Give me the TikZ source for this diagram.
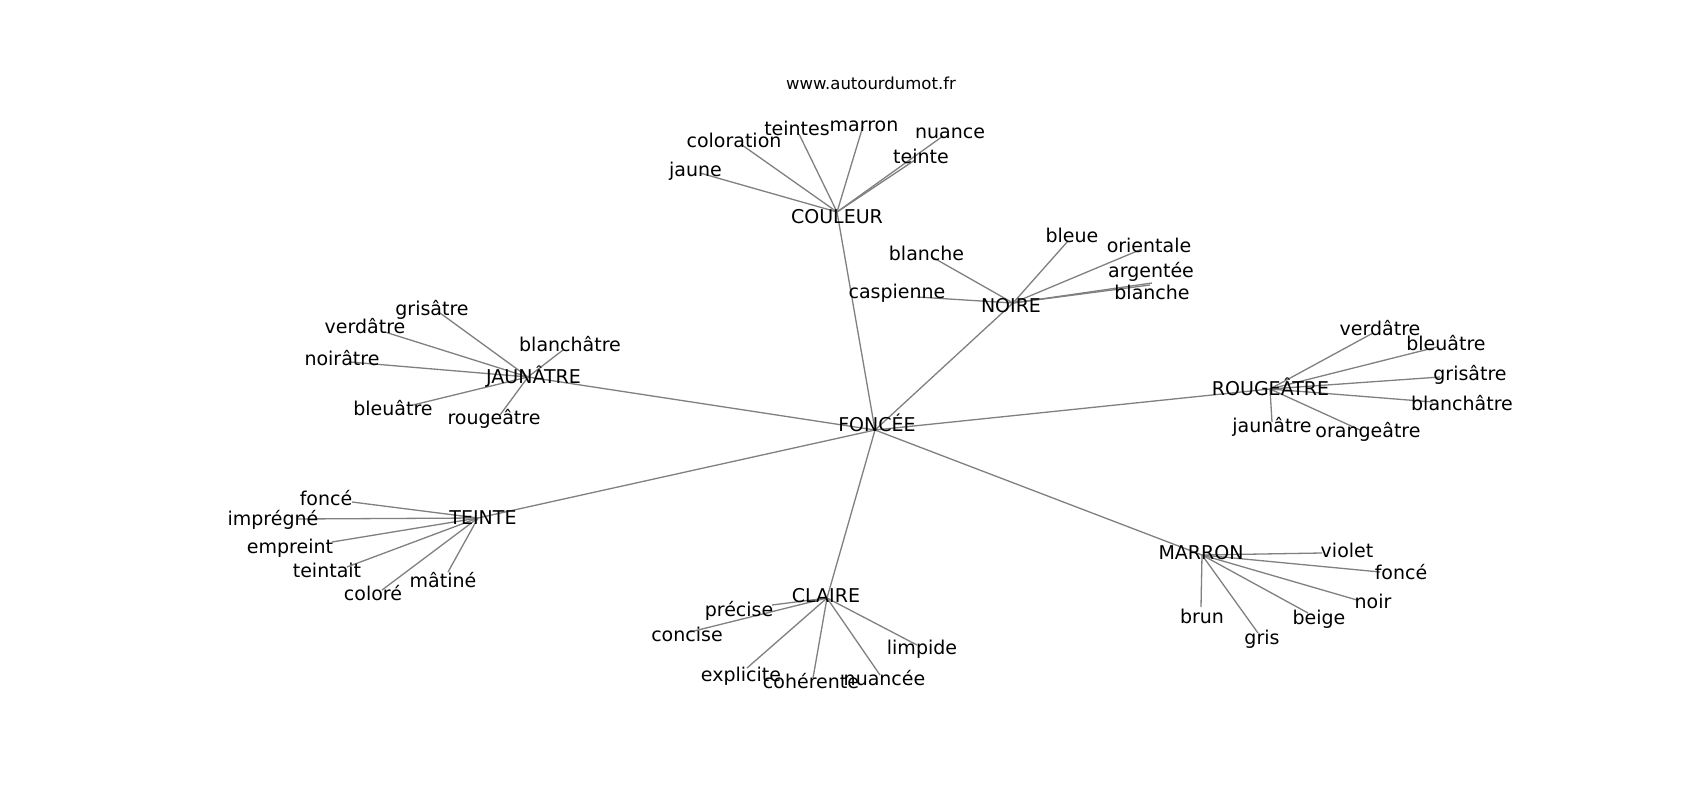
\documentclass[tikz,border=0pt]{standalone}
\usepackage{fontspec}
\setmainfont{DejaVu Sans}
\begin{document}
\begin{tikzpicture}[x=1pt,y=-1pt,
  lbl/.style={font=\fontsize{19}{23}\selectfont, inner sep=0pt, anchor=base, text=black},
  ttl/.style={font=\fontsize{16.5}{20}\selectfont, inner sep=0pt, anchor=base, text=black},
  edge/.style={draw=black!50, line width=1.3pt}]
\useasboundingbox[fill=white] (0,0) rectangle (1700,800);
% hub points
\coordinate (F) at (875,430);
\coordinate (COU) at (837,212);
\coordinate (NOI) at (1013,303);
\coordinate (JAU) at (528,377);
\coordinate (ROU) at (1270,389);
\coordinate (TEI) at (478,518);
\coordinate (CLA) at (827,598);
\coordinate (MAR) at (1202,555);
% leaf end points
\coordinate (c1) at (700,173); \coordinate (c2) at (742,145); \coordinate (c3) at (799,134);
\coordinate (c4) at (863,126); \coordinate (c5) at (943,136); \coordinate (c6) at (915,160);
\coordinate (n1) at (917,297); \coordinate (n2) at (932,257); \coordinate (n3) at (1068,241);
\coordinate (n4) at (1142,249); \coordinate (n5) at (1152,283); \coordinate (n6) at (1150,285);
\coordinate (j1) at (440,313); \coordinate (j2) at (385,332); \coordinate (j3) at (350,362);
\coordinate (j4) at (563,350); \coordinate (j5) at (413,405); \coordinate (j6) at (500,415);
\coordinate (r1) at (1373,333); \coordinate (r2) at (1437,347); \coordinate (r3) at (1440,377);
\coordinate (r4) at (1433,402); \coordinate (r5) at (1272,422); \coordinate (r6) at (1360,430);
\coordinate (t1) at (352,502); \coordinate (t2) at (297,519); \coordinate (t3) at (332,542);
\coordinate (t4) at (347,567); \coordinate (t5) at (382,590); \coordinate (t6) at (448,572);
\coordinate (k1) at (772,605); \coordinate (k2) at (690,632); \coordinate (k3) at (747,668);
\coordinate (k4) at (813,678); \coordinate (k5) at (880,675); \coordinate (k6) at (917,645);
\coordinate (m1) at (1322,553); \coordinate (m2) at (1380,572); \coordinate (m3) at (1357,600);
\coordinate (m4) at (1308,613); \coordinate (m5) at (1258,633); \coordinate (m6) at (1201,607);
% edges
\foreach \h in {COU,NOI,JAU,ROU,TEI,CLA,MAR} \draw[edge] (F) -- (\h);
\foreach \i in {1,...,6} {
  \draw[edge] (COU) -- (c\i);
  \draw[edge] (NOI) -- (n\i);
  \draw[edge] (JAU) -- (j\i);
  \draw[edge] (ROU) -- (r\i);
  \draw[edge] (TEI) -- (t\i);
  \draw[edge] (CLA) -- (k\i);
  \draw[edge] (MAR) -- (m\i);
}
% title
\node[ttl] (title) at (871,89) {www.autourdumot.fr};
% hub labels
\node[lbl] (Fl) at (877,431) {FONCÉE};
\node[lbl] (COUl) at (837,223) {COULEUR};
\node[lbl] (NOIl) at (1011,312) {NOIRE};
\node[lbl] (JAUl) at (533.5,383) {JAUNÂTRE};
\node[lbl] (ROUl) at (1270.5,395) {ROUGEÂTRE};
\node[lbl] (TEIl) at (483,524) {TEINTE};
\node[lbl] (CLAl) at (826,602) {CLAIRE};
\node[lbl] (MARl) at (1201,559) {MARRON};
% COULEUR leaves
\node[lbl] (c1l) at (695.5,176) {jaune};
\node[lbl] (c2l) at (734,147) {coloration};
\node[lbl] (c3l) at (797,135) {teintes};
\node[lbl] (c4l) at (864,131) {marron};
\node[lbl] (c5l) at (950,138) {nuance};
\node[lbl] (c6l) at (921,163) {teinte};
% NOIRE leaves
\node[lbl] (n1l) at (897,298) {caspienne};
\node[lbl] (n2l) at (926.5,260) {blanche};
\node[lbl] (n3l) at (1072,242) {bleue};
\node[lbl] (n4l) at (1149,252) {orientale};
\node[lbl] (n5l) at (1151,277) {argentée};
\node[lbl] (n6l) at (1152,299) {blanche};
% JAUNATRE leaves
\node[lbl] (j1l) at (432,315) {grisâtre};
\node[lbl] (j2l) at (365,333) {verdâtre};
\node[lbl] (j3l) at (342,365) {noirâtre};
\node[lbl] (j4l) at (570,351) {blanchâtre};
\node[lbl] (j5l) at (393,415) {bleuâtre};
\node[lbl] (j6l) at (494,424) {rougeâtre};
% ROUGEATRE leaves
\node[lbl] (r1l) at (1380,335) {verdâtre};
\node[lbl] (r2l) at (1446,350) {bleuâtre};
\node[lbl] (r3l) at (1470,380) {grisâtre};
\node[lbl] (r4l) at (1462,410) {blanchâtre};
\node[lbl] (r5l) at (1272,432) {jaunâtre};
\node[lbl] (r6l) at (1368,437) {orangeâtre};
% TEINTE leaves
\node[lbl] (t1l) at (326,505) {foncé};
\node[lbl] (t2l) at (273,525) {imprégné};
\node[lbl] (t3l) at (290,553) {empreint};
\node[lbl] (t4l) at (327,577) {teintait};
\node[lbl] (t5l) at (373,600) {coloré};
\node[lbl] (t6l) at (443,587) {mâtiné};
% CLAIRE leaves
\node[lbl] (k1l) at (739,616) {précise};
\node[lbl] (k2l) at (687,641) {concise};
\node[lbl] (k3l) at (741,681) {explicite};
\node[lbl] (k4l) at (811,688) {cohérente};
\node[lbl] (k5l) at (884.5,685) {nuancée};
\node[lbl] (k6l) at (922,654) {limpide};
% MARRON leaves
\node[lbl] (m1l) at (1347,557) {violet};
\node[lbl] (m2l) at (1401,579) {foncé};
\node[lbl] (m3l) at (1373,608) {noir};
\node[lbl] (m4l) at (1319,624) {beige};
\node[lbl] (m5l) at (1262,644) {gris};
\node[lbl] (m6l) at (1202,623) {brun};
\end{tikzpicture}
\end{document}
